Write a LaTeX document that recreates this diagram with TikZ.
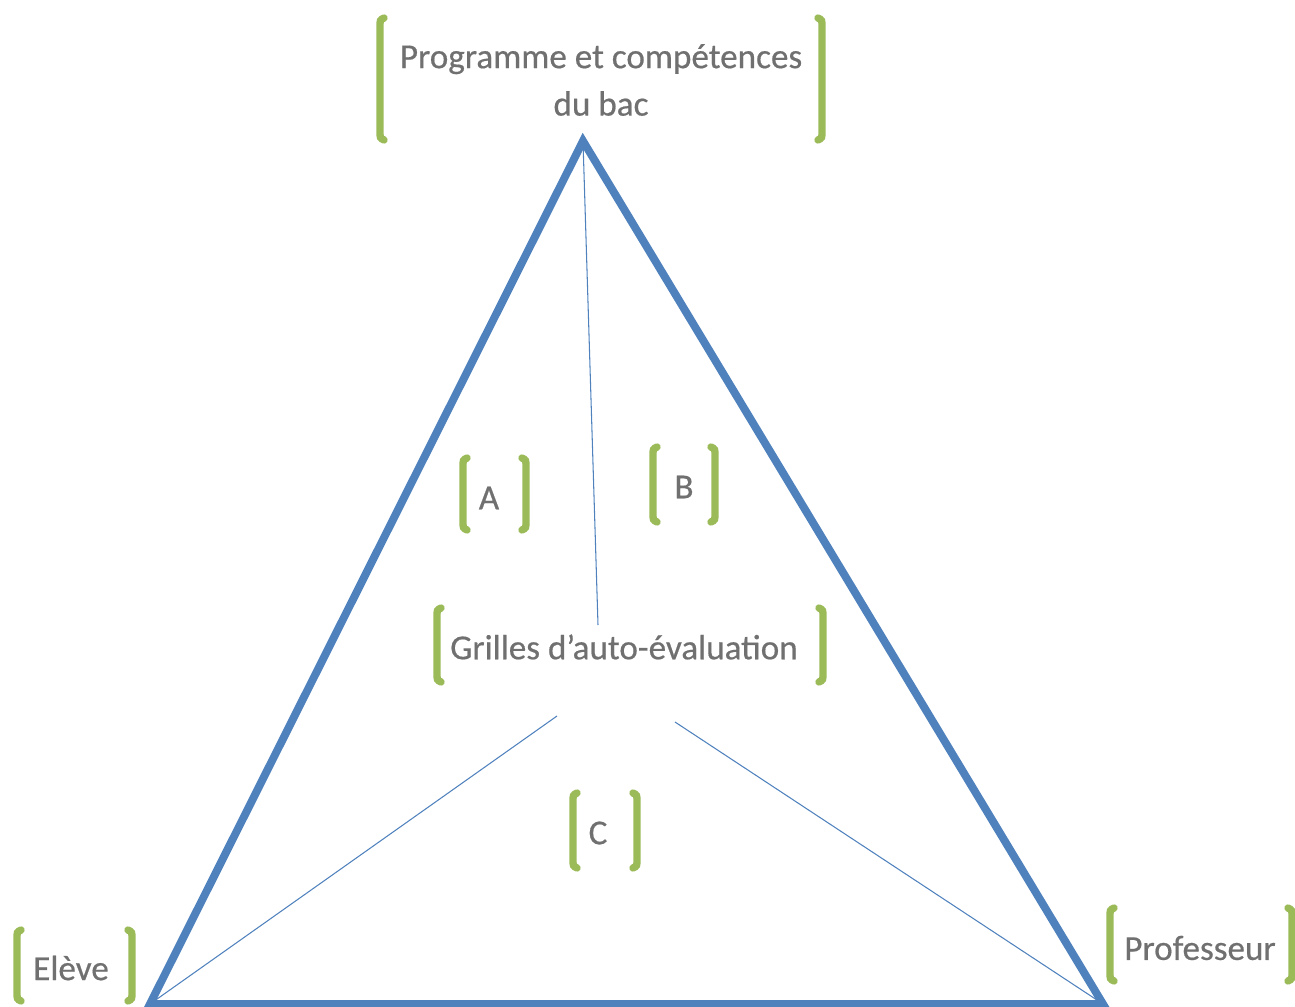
\documentclass[tikz,border=0pt]{standalone}
\usepackage{fontspec}
\setmainfont{Carlito}
\newfontfamily\lblfont{Carlito}[FakeBold=0.5]
\definecolor{triblue}{RGB}{79,129,189}
\definecolor{brkgreen}{RGB}{155,187,89}
\definecolor{txtgray}{RGB}{112,112,112}
\tikzset{
  lbl/.style={text=txtgray,font=\lblfont\fontsize{20}{27}\selectfont,align=center,inner sep=0pt},
  brk/.style={draw=brkgreen,line width=4.2pt,line cap=round},
  side/.style={draw=triblue,line width=4.5pt},
  thin/.style={draw=triblue,line width=0.6pt}
}
% pair of brackets: left x, right x, top y, bottom y
\newcommand{\brk}[4]{%
\draw[brk](#1+4,#3) .. controls (#1,#3+2) .. (#1,#3+9)--(#1,#4-9) .. controls (#1,#4-2) .. (#1+4,#4);
\draw[brk](#2-4,#3) .. controls (#2,#3+2) .. (#2,#3+9)--(#2,#4-9) .. controls (#2,#4-2) .. (#2-4,#4);}
\begin{document}
\begin{tikzpicture}[x=0.02cm,y=-0.02cm]
\useasboundingbox(0,0)rectangle(1295,1007);
\clip(0,0)rectangle(1295,1007);
\coordinate(haut)at(583,141);
\coordinate(gauche)at(150,1004);
\coordinate(droite)at(1103,1004);
\coordinate(centre)at(598,625);
\coordinate(cg)at(557,716);
\coordinate(cd)at(675,722);
\draw[side](haut)--(gauche)--(droite)--cycle;
\draw[thin](haut)--(centre);
\draw[thin](cg)--(gauche);
\draw[thin](cd)--(droite);
\node[lbl](prog)at(601,80){Programme et compétences\\du bac};
\node[lbl](grilles)at(624,647){Grilles d’auto-évaluation};
\node[lbl](a)at(489,498){A};
\node[lbl](b)at(684,487){B};
\node[lbl](c)at(598,833){C};
\node[lbl](eleve)at(71,968){Elève};
\node[lbl](prof)at(1200,948){Professeur};
\brk{380}{822}{18}{140}
\brk{437}{823}{608}{682}
\brk{463}{526}{458}{530}
\brk{653}{715}{447}{522}
\brk{573}{637}{793}{868}
\brk{17}{132}{930}{1001}
\brk{1110}{1292}{908}{981}
\end{tikzpicture}
\end{document}
